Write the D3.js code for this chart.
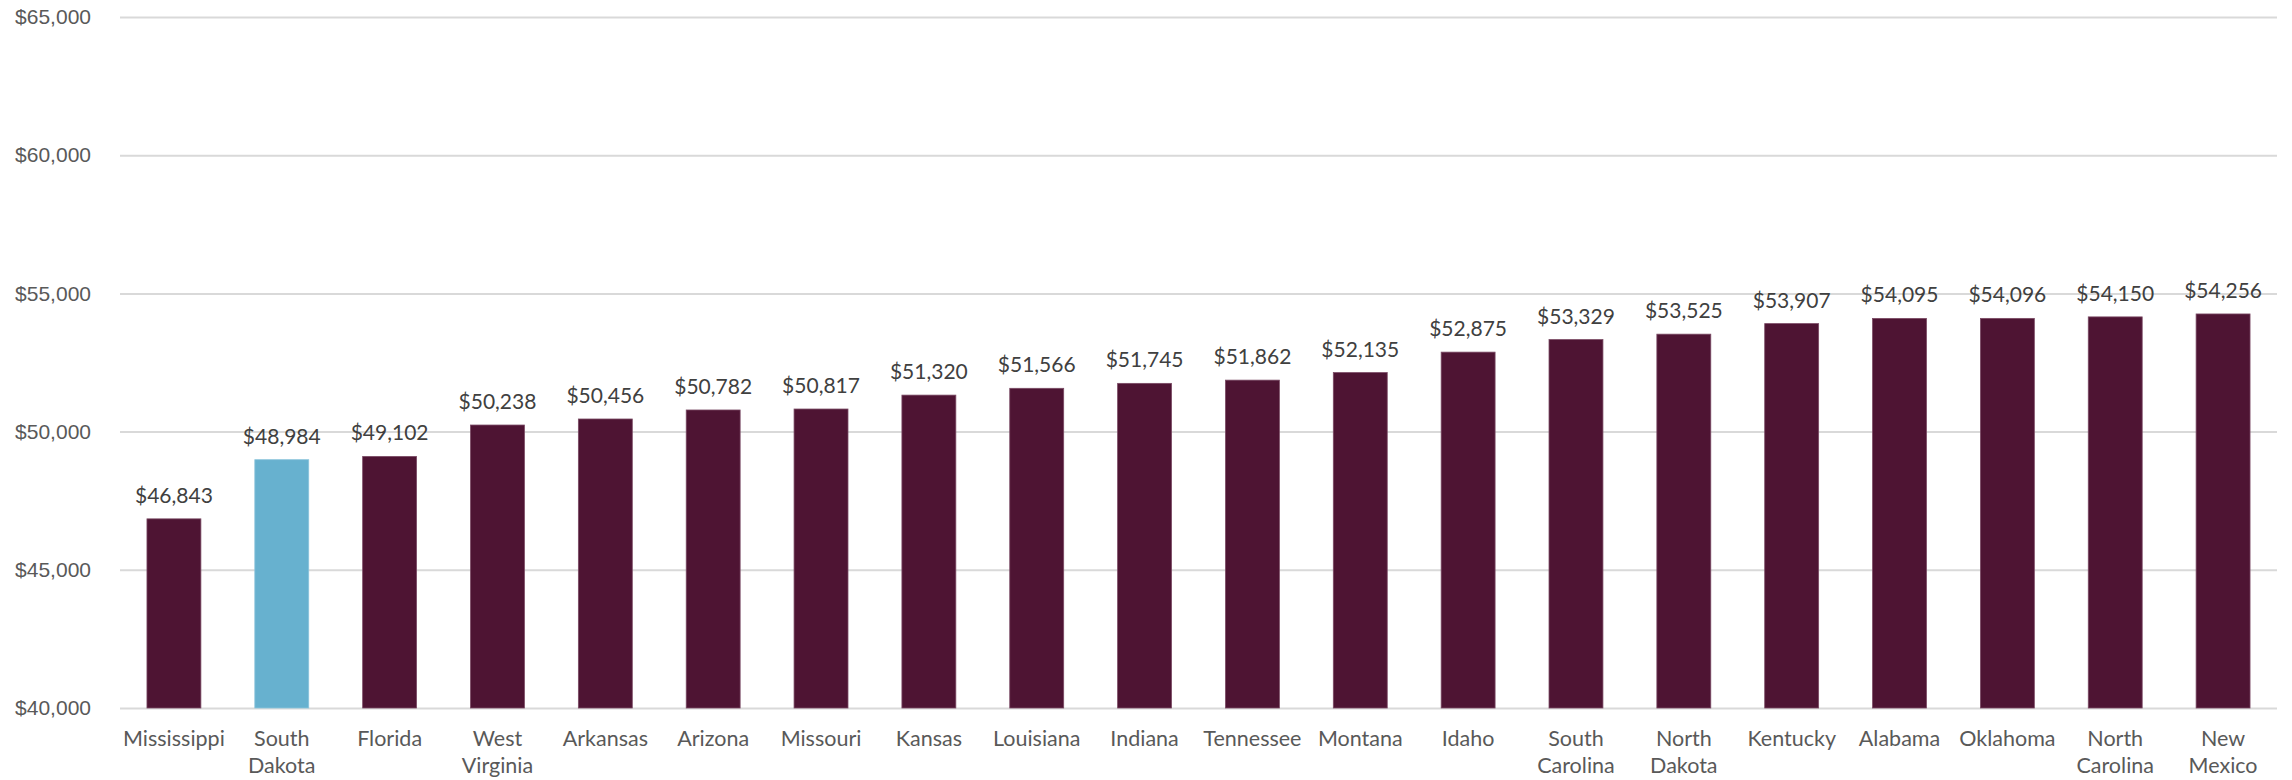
<!DOCTYPE html>
<html>
<head>
<meta charset="utf-8">
<script src="https://cdn.jsdelivr.net/npm/d3@7"></script>
<style>
  html, body { margin: 0; padding: 0; background: #fff; }
  svg { display: block; font-family: "Lato", "Open Sans", sans-serif; }
</style>
</head>
<body>
<svg id="chart" width="2292" height="780"></svg>
<script>
// States ordered by median household income
const states = ["Mississippi", "South Dakota", "Florida", "West Virginia", "Arkansas",
  "Arizona", "Missouri", "Kansas", "Louisiana", "Indiana", "Tennessee", "Montana",
  "Idaho", "South Carolina", "North Dakota", "Kentucky", "Alabama", "Oklahoma",
  "North Carolina", "New Mexico"];
const incomes = [46843, 48984, 49102, 50238, 50456, 50782, 50817, 51320, 51566, 51745,
  51862, 52135, 52875, 53329, 53525, 53907, 54095, 54096, 54150, 54256];
const highlighted = ["South Dakota"];
const yTicks = [40000, 45000, 50000, 55000, 60000, 65000];

const svg = d3.select("#chart");
const margin = { left: 120, right: 15, top: 17, bottom: 72 };
const width = 2292, height = 780;

const x = d3.scaleBand()
  .domain(states)
  .range([margin.left, width - margin.right])
  .paddingInner(0.5)
  .paddingOuter(0.25);

const y = d3.scaleLinear()
  .domain([40000, 65000])
  .range([height - margin.bottom, margin.top]);

const money = v => "$" + d3.format(",")(v);

// Horizontal gridlines and y labels
const yAxis = d3.axisLeft(y)
  .tickValues(yTicks)
  .tickSize(-(width - margin.right - margin.left))
  .tickPadding(29)
  .tickFormat(money);

const gy = svg.append("g")
  .attr("transform", `translate(${margin.left},0)`)
  .call(yAxis);
gy.select(".domain").remove();
gy.selectAll(".tick line").attr("stroke", "#d9d9d9").attr("stroke-width", 2);
gy.selectAll(".tick text")
  .attr("fill", "#595959")
  .style("font-size", "21px");

// Bars
svg.append("g")
  .selectAll("rect")
  .data(states)
  .join("rect")
  .attr("x", d => x(d))
  .attr("width", x.bandwidth())
  .attr("y", (d, i) => y(incomes[i]))
  .attr("height", (d, i) => y(40000) - y(incomes[i]))
  .attr("fill", d => highlighted.includes(d) ? "#67b1cf" : "#4e1433")
  .attr("stroke", d => highlighted.includes(d) ? "#8cc5dc" : "#7a4a64")
  .attr("stroke-width", 0.8);

// Value labels above bars
svg.append("g")
  .selectAll("text")
  .data(states)
  .join("text")
  .attr("x", d => x(d) + x.bandwidth() / 2)
  .attr("y", (d, i) => y(incomes[i]) - 16)
  .attr("text-anchor", "middle")
  .attr("fill", "#404040")
  .style("font-size", "21px")
  .text((d, i) => money(incomes[i]));

// Category labels, two-word names wrapped onto two lines
const xl = svg.append("g")
  .selectAll("text")
  .data(states)
  .join("text")
  .attr("x", d => x(d) + x.bandwidth() / 2)
  .attr("y", 746)
  .attr("text-anchor", "middle")
  .attr("fill", "#595959")
  .style("font-size", "21.5px");

xl.each(function(d) {
  const words = d.split(" ");
  const t = d3.select(this);
  words.forEach((w, k) => {
    t.append("tspan")
      .attr("x", x(d) + x.bandwidth() / 2)
      .attr("dy", k === 0 ? 0 : 27)
      .text(w);
  });
});
</script>
</body>
</html>
